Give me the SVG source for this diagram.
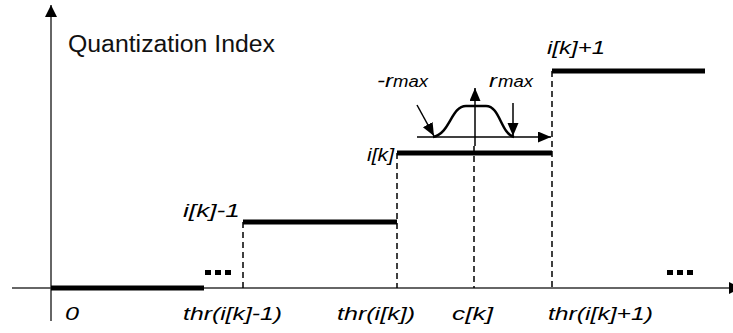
<svg xmlns="http://www.w3.org/2000/svg" width="733" height="333" viewBox="0 0 733 333">
<defs>
<style>
.t{font-family:"Liberation Sans",Arial,sans-serif;font-size:19px;font-style:italic;fill:#000}
.q{font-family:"Liberation Sans",Arial,sans-serif;font-size:23px;fill:#111}
.m{font-family:"Liberation Sans",Arial,sans-serif;font-size:16px;font-style:italic;fill:#000}
.ax{stroke:#333;stroke-width:1.5;fill:none}
.step{stroke:#000;stroke-width:5;fill:none}
.dash{stroke:#000;stroke-width:1.5;stroke-dasharray:6,4;fill:none}
.thin{stroke:#000;stroke-width:1.5;fill:none}
.dot{fill:#000}
</style>
<marker id="big" markerUnits="userSpaceOnUse" markerWidth="13" markerHeight="13" refX="12" refY="6" orient="auto">
<path d="M0,0 L12,6 L0,12 z" fill="#000"/>
</marker>
<marker id="sm" markerUnits="userSpaceOnUse" markerWidth="14" markerHeight="12" refX="13" refY="5.5" orient="auto">
<path d="M0,0 L13,5.5 L0,11 z" fill="#000"/>
</marker>
</defs>
<rect width="733" height="333" fill="#fff"/>
<g id="axes">
<line class="ax" x1="51" y1="321" x2="51" y2="5" marker-end="url(#big)"/>
<line class="ax" x1="12" y1="288" x2="731" y2="288"/>
<polygon points="729,282 741,288 729,294" fill="#000"/>
<text class="q" x="68" y="52" textLength="207" lengthAdjust="spacingAndGlyphs">Quantization Index</text>
</g>
<g id="connectors">
<line class="dash" x1="243" y1="222" x2="243" y2="288"/>
<line class="dash" x1="397" y1="153" x2="397" y2="288"/>
<line class="dash" x1="552" y1="71" x2="552" y2="288"/>
<line class="dash" x1="474" y1="146" x2="474" y2="288"/>
</g>
<g id="level0">
<line class="step" x1="51" y1="288" x2="204" y2="288"/>
<text class="t" x="65" y="320" textLength="14" lengthAdjust="spacingAndGlyphs">0</text>
<rect class="dot" x="205" y="270" width="6" height="5"/>
<rect class="dot" x="215" y="270" width="6" height="5"/>
<rect class="dot" x="225" y="270" width="6" height="5"/>
</g>
<g id="level-ikm1">
<line class="step" x1="243" y1="222" x2="397" y2="222"/>
<text class="t" x="183" y="217" textLength="57" lengthAdjust="spacingAndGlyphs">i[k]-1</text>
</g>
<g id="level-ik">
<line class="step" x1="397" y1="153" x2="552" y2="153"/>
<text class="t" x="367" y="161" textLength="27" lengthAdjust="spacingAndGlyphs">i[k]</text>
</g>
<g id="level-ikp1">
<line class="step" x1="552" y1="71" x2="705" y2="71"/>
<text class="t" x="547" y="54" textLength="58" lengthAdjust="spacingAndGlyphs">i[k]+1</text>
</g>
<g id="distribution">
<line class="thin" x1="417" y1="137" x2="551" y2="137" marker-end="url(#sm)"/>
<line class="thin" x1="475" y1="146" x2="475" y2="88" marker-end="url(#sm)"/>
<path d="M433,137 C450,134 451,106 466,106 L486,106 C500,106 501,134 514,137" stroke="#000" stroke-width="2.5" fill="none"/>
<line class="thin" x1="417" y1="105" x2="434" y2="136" marker-end="url(#sm)"/>
<line class="thin" x1="513" y1="103" x2="513" y2="136" marker-end="url(#sm)"/>
<text class="t" x="377" y="87" font-size="18" textLength="16" lengthAdjust="spacingAndGlyphs">-r</text>
<text class="m" x="393" y="87" textLength="35" lengthAdjust="spacingAndGlyphs">max</text>
<text class="t" x="489" y="87" font-size="18" textLength="8" lengthAdjust="spacingAndGlyphs">r</text>
<text class="m" x="498" y="87" textLength="35" lengthAdjust="spacingAndGlyphs">max</text>
</g>
<g id="thresholds">
<text class="t" x="183" y="320" textLength="99" lengthAdjust="spacingAndGlyphs">thr(i[k]-1)</text>
<text class="t" x="337" y="320" textLength="78" lengthAdjust="spacingAndGlyphs">thr(i[k])</text>
<text class="t" x="452" y="320" textLength="41" lengthAdjust="spacingAndGlyphs">c[k]</text>
<text class="t" x="548" y="320" textLength="105" lengthAdjust="spacingAndGlyphs">thr(i[k]+1)</text>
<rect class="dot" x="667" y="270" width="6" height="5"/>
<rect class="dot" x="677" y="270" width="6" height="5"/>
<rect class="dot" x="687" y="270" width="6" height="5"/>
</g>
</svg>
